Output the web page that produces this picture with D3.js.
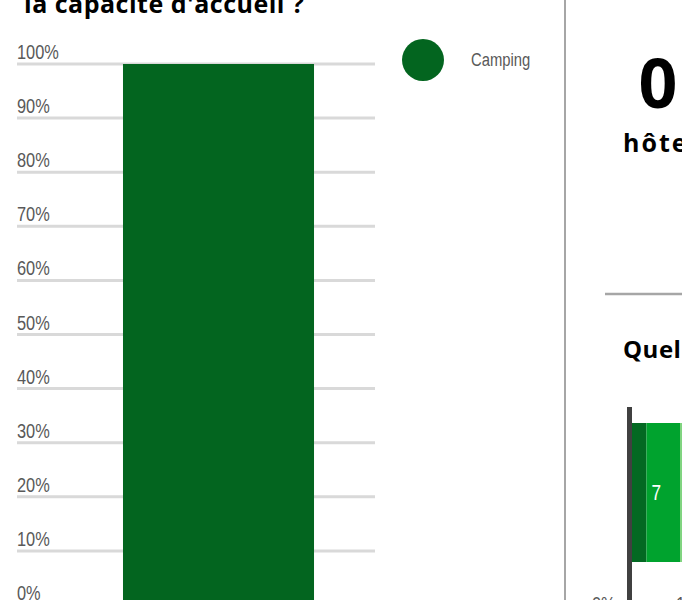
<!DOCTYPE html>
<html>
<head>
<meta charset="utf-8">
<script src="https://cdn.jsdelivr.net/npm/d3@7"></script>
<style>
  body { margin: 0; background: #fff; }
  svg { display: block; }
  .tick-label { font-family: "Liberation Sans", Arial, sans-serif; fill: #595959; }
  .bold { font-family: "Open Sans", "Lato", sans-serif; font-weight: 700; fill: #000; }
</style>
</head>
<body>
<div id="chart"></div>
<script>
// left chart: share of capacity by type
var categories = ["Camping"];
var shares = [1.0];
var yTicks = [0, 0.1, 0.2, 0.3, 0.4, 0.5, 0.6, 0.7, 0.8, 0.9, 1.0];
var barColors = ["#03651f"];

// right chart: stacked bar (partly visible)
var stackNames = ["a", "b", "c"];
var stackValues = [3, 7, 20];
var stackColors = ["#036922", "#00a32e", "#80d480"];
var stackLabels = ["", "7", ""];

var width = 682, height = 600;
var narrow = 0.78; // condensed look

var svg = d3.select("#chart")
  .append("svg")
  .attr("width", width)
  .attr("height", height);

// condensed text helper
function narrowText(g, x, y, size) {
  return g.append("text")
    .attr("class", "tick-label")
    .attr("transform", "translate(" + x + "," + y + ") scale(" + narrow + ",1)")
    .style("font-size", size + "px");
}

// title (cut at top)
svg.append("text")
  .attr("class", "bold")
  .attr("x", 24)
  .attr("y", 13)
  .style("font-size", "25px")
  .style("letter-spacing", "0.5px")
  .text("la capacité d'accueil ?");

// y scale
var y = d3.scaleLinear()
  .domain([0, 1])
  .range([605, 64]);

var x = d3.scaleBand()
  .domain(categories)
  .range([62, 375])
  .paddingInner(0.242)
  .paddingOuter(0.242);

// gridlines + labels
var grid = svg.append("g");
grid.selectAll("line")
  .data(yTicks)
  .enter()
  .append("line")
    .attr("x1", 17)
    .attr("x2", 375)
    .attr("y1", function(d) { return y(d); })
    .attr("y2", function(d) { return y(d); })
    .attr("stroke", "#d9d9d9")
    .style("stroke-width", 3);

yTicks.forEach(function(d) {
  narrowText(grid, 17, y(d) - 5, 21).text(d3.format(".0%")(d));
});

// bars
svg.selectAll(".bar")
  .data(categories)
  .enter()
  .append("rect")
    .attr("class", "bar")
    .attr("x", function(d) { return x(d); })
    .attr("width", x.bandwidth())
    .attr("y", function(d, i) { return y(shares[i]); })
    .attr("height", function(d, i) { return y(0) - y(shares[i]); })
    .attr("fill", function(d, i) { return barColors[i]; });

// legend
var legend = svg.append("g");
categories.forEach(function(d, i) {
  legend.append("circle")
    .attr("cx", 423)
    .attr("cy", 60 + i * 50)
    .attr("r", 21)
    .attr("fill", barColors[i]);
  narrowText(legend, 471, 66 + i * 50, 19).text(d);
});

// separator
svg.append("line")
  .attr("x1", 565).attr("x2", 565)
  .attr("y1", 0).attr("y2", height)
  .attr("stroke", "#a6a6a6")
  .style("stroke-width", 2);

// right panel: key number
svg.append("text")
  .attr("class", "bold")
  .attr("x", 658)
  .attr("y", 108)
  .style("text-anchor", "middle")
  .style("font-size", "68px")
  .text("0");

svg.append("text")
  .attr("class", "bold")
  .attr("x", 623)
  .attr("y", 152)
  .style("font-size", "25px")
  .style("letter-spacing", "2px")
  .text("hôtels");

svg.append("line")
  .attr("x1", 605).attr("x2", 682)
  .attr("y1", 294).attr("y2", 294)
  .attr("stroke", "#a6a6a6")
  .style("stroke-width", 2.5);

svg.append("text")
  .attr("class", "bold")
  .attr("x", 623)
  .attr("y", 358)
  .style("font-size", "24px")
  .style("letter-spacing", "0.5px")
  .text("Quel");

// stacked bar
var total = d3.sum(stackValues);
var xs = d3.scaleLinear()
  .domain([0, total])
  .range([632, 776]);

var stacked = [];
var acc = 0;
stackValues.forEach(function(v, i) {
  stacked.push({ name: stackNames[i], x0: acc, x1: acc + v, label: stackLabels[i], color: stackColors[i] });
  acc += v;
});

var sb = svg.append("g");
sb.selectAll("rect")
  .data(stacked)
  .enter()
  .append("rect")
    .attr("x", function(d) { return xs(d.x0); })
    .attr("width", function(d) { return xs(d.x1) - xs(d.x0); })
    .attr("y", 423)
    .attr("height", 139)
    .attr("fill", function(d) { return d.color; });

stacked.forEach(function(d) {
  if (!d.label) return;
  narrowText(sb, xs(d.x0) + 5, 500, 22).style("fill", "#fff").text(d.label);
});

// axis line
svg.append("line")
  .attr("x1", xs(0) - 2.5).attr("x2", xs(0) - 2.5)
  .attr("y1", 407).attr("y2", height)
  .attr("stroke", "#404040")
  .style("stroke-width", 5);

narrowText(svg, 592, 611, 21).text("0%");
narrowText(svg, 676, 611, 21).text("10%");
</script>
</body>
</html>
